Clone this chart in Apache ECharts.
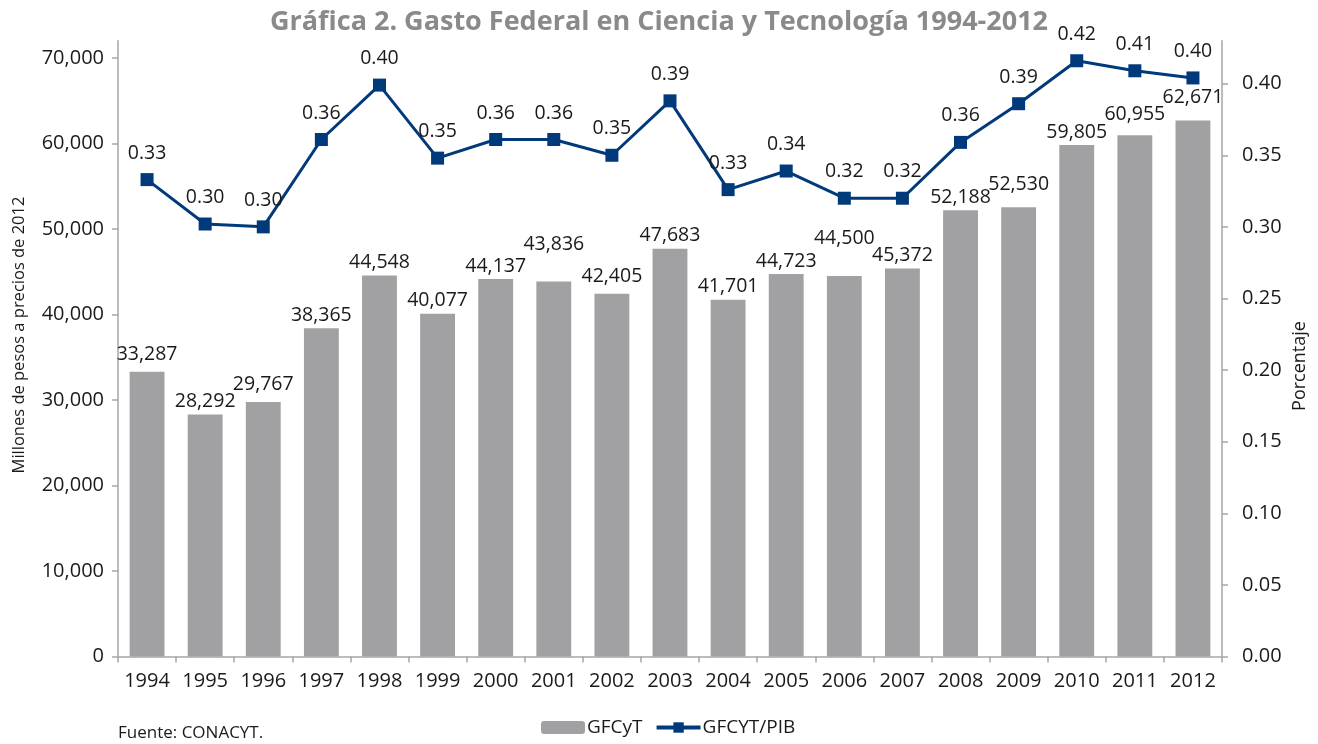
<!DOCTYPE html>
<html>
<head>
<meta charset="utf-8">
<script src="https://cdn.jsdelivr.net/npm/echarts@6/dist/echarts.min.js"></script>
<style>
html,body{margin:0;padding:0;background:#fff;}
#chart{width:1318px;height:744px;}
</style>
</head>
<body>
<div id="chart"></div>
<script>
const categories = ['1994','1995','1996','1997','1998','1999','2000','2001','2002','2003','2004','2005','2006','2007','2008','2009','2010','2011','2012'];
const gfcyt = [33287, 28292, 29767, 38365, 44548, 40077, 44137, 43836, 42405, 47683, 41701, 44723, 44500, 45372, 52188, 52530, 59805, 60955, 62671];
const gfcytPib = [0.333, 0.302, 0.300, 0.361, 0.399, 0.348, 0.361, 0.361, 0.350, 0.388, 0.326, 0.339, 0.320, 0.320, 0.359, 0.386, 0.416, 0.409, 0.404];
const leftTicks = [0, 10000, 20000, 30000, 40000, 50000, 60000, 70000];
const rightTicks = [0, 0.05, 0.10, 0.15, 0.20, 0.25, 0.30, 0.35, 0.40];
const seriesNames = ['GFCyT', 'GFCYT/PIB'];
const titleText = 'Gráfica 2. Gasto Federal en Ciencia y Tecnología 1994-2012';
const leftAxisName = 'Millones de pesos a precios de 2012';
const rightAxisName = 'Porcentaje';
const sourceText = 'Fuente: CONACYT.';
// extra lift (px) applied to some bar labels, as moved in the original
const barLabelLift = {'1994': 4, '1996': 4, '2001': 24, '2002': 4, '2006': 24, '2009': 10, '2011': 8, '2012': 10};

const FONT = '"Open Sans", "Noto Sans", sans-serif';
const AXIS_COLOR = '#a6a6a8';
const LINE_COLOR = '#003a7a';
const fmtThousands = v => String(Math.round(v)).replace(/\B(?=(\d{3})+(?!\d))/g, ',');

const chart = echarts.init(document.getElementById('chart'), null, {renderer: 'canvas'});
chart.setOption({
  animation: false,
  backgroundColor: '#ffffff',
  textStyle: {fontFamily: FONT},
  title: {
    text: titleText,
    left: 'center',
    top: 4,
    textStyle: {fontFamily: FONT, fontSize: 27, fontWeight: 'bold', color: '#8a8a8c'}
  },
  grid: {left: 118, right: 96, top: 40.7, bottom: 87.5, containLabel: false},
  legend: {
    data: seriesNames,
    left: 536,
    top: 713,
    itemWidth: 44,
    itemHeight: 13,
    itemGap: 12,
    lineStyle: {width: 4},
    textStyle: {fontFamily: FONT, fontSize: 19, color: '#1a1a1a', padding: [0,0,0,-3]}
  },
  xAxis: {
    type: 'category',
    data: categories,
    boundaryGap: true,
    axisLine: {lineStyle: {color: AXIS_COLOR, width: 1.5}},
    axisTick: {show: true, alignWithLabel: false, length: 6, lineStyle: {color: AXIS_COLOR, width: 1.5}},
    axisLabel: {fontFamily: FONT, fontSize: 20, color: '#1a1a1a', margin: 15, interval: 0},
    splitLine: {show: false}
  },
  yAxis: [
    {
      type: 'value',
      min: 0,
      max: 72000,
      position: 'left',
      axisLine: {show: true, lineStyle: {color: AXIS_COLOR, width: 1.5}},
      axisTick: {show: true, length: 6, customValues: leftTicks, lineStyle: {color: AXIS_COLOR, width: 1.5}},
      axisLabel: {customValues: leftTicks, fontFamily: FONT, fontSize: 20, color: '#1a1a1a', margin: 14, formatter: v => fmtThousands(v)},
      splitLine: {show: false}
    },
    {
      type: 'value',
      min: 0,
      max: 0.43,
      position: 'right',
      axisLine: {show: true, lineStyle: {color: AXIS_COLOR, width: 1.5}},
      axisTick: {show: true, length: 6, customValues: rightTicks, lineStyle: {color: AXIS_COLOR, width: 1.5}},
      axisLabel: {customValues: rightTicks, fontFamily: FONT, fontSize: 20, color: '#1a1a1a', margin: 20, formatter: v => v.toFixed(2)},
      splitLine: {show: false}
    }
  ],
  series: [
    {
      name: seriesNames[0],
      type: 'bar',
      yAxisIndex: 0,
      barWidth: '60%',
      itemStyle: {color: '#a1a1a3'},
      data: gfcyt.map((v, i) => {
        const lift = barLabelLift[categories[i]] || 0;
        return lift ? {value: v, label: {offset: [0, -lift]}} : v;
      }),
      label: {
        show: true,
        position: 'top',
        distance: 3,
        fontFamily: FONT,
        fontSize: 19.5,
        color: '#1a1a1a',
        formatter: p => fmtThousands(p.value)
      },
      z: 2
    },
    {
      name: seriesNames[1],
      type: 'line',
      yAxisIndex: 1,
      data: gfcytPib,
      symbol: 'rect',
      symbolSize: 13,
      lineStyle: {color: LINE_COLOR, width: 3},
      itemStyle: {color: LINE_COLOR},
      label: {
        show: true,
        position: 'top',
        distance: 10,
        fontFamily: FONT,
        fontSize: 19.5,
        color: '#1a1a1a',
        formatter: p => p.value.toFixed(2)
      },
      z: 3
    }
  ],
  graphic: [
    {
      type: 'text',
      x: 19,
      y: 335,
      rotation: Math.PI / 2,
      style: {text: leftAxisName, fontFamily: FONT, fontSize: 16.5, fill: '#1a1a1a', align: 'center', verticalAlign: 'middle'}
    },
    {
      type: 'text',
      x: 1300,
      y: 366,
      rotation: Math.PI / 2,
      style: {text: rightAxisName, fontFamily: FONT, fontSize: 18, fill: '#1a1a1a', align: 'center', verticalAlign: 'middle'}
    },
    {
      type: 'text',
      left: 118,
      top: 725,
      style: {text: sourceText, fontFamily: FONT, fontSize: 17, fill: '#1a1a1a'}
    }
  ]
});
</script>
</body>
</html>
